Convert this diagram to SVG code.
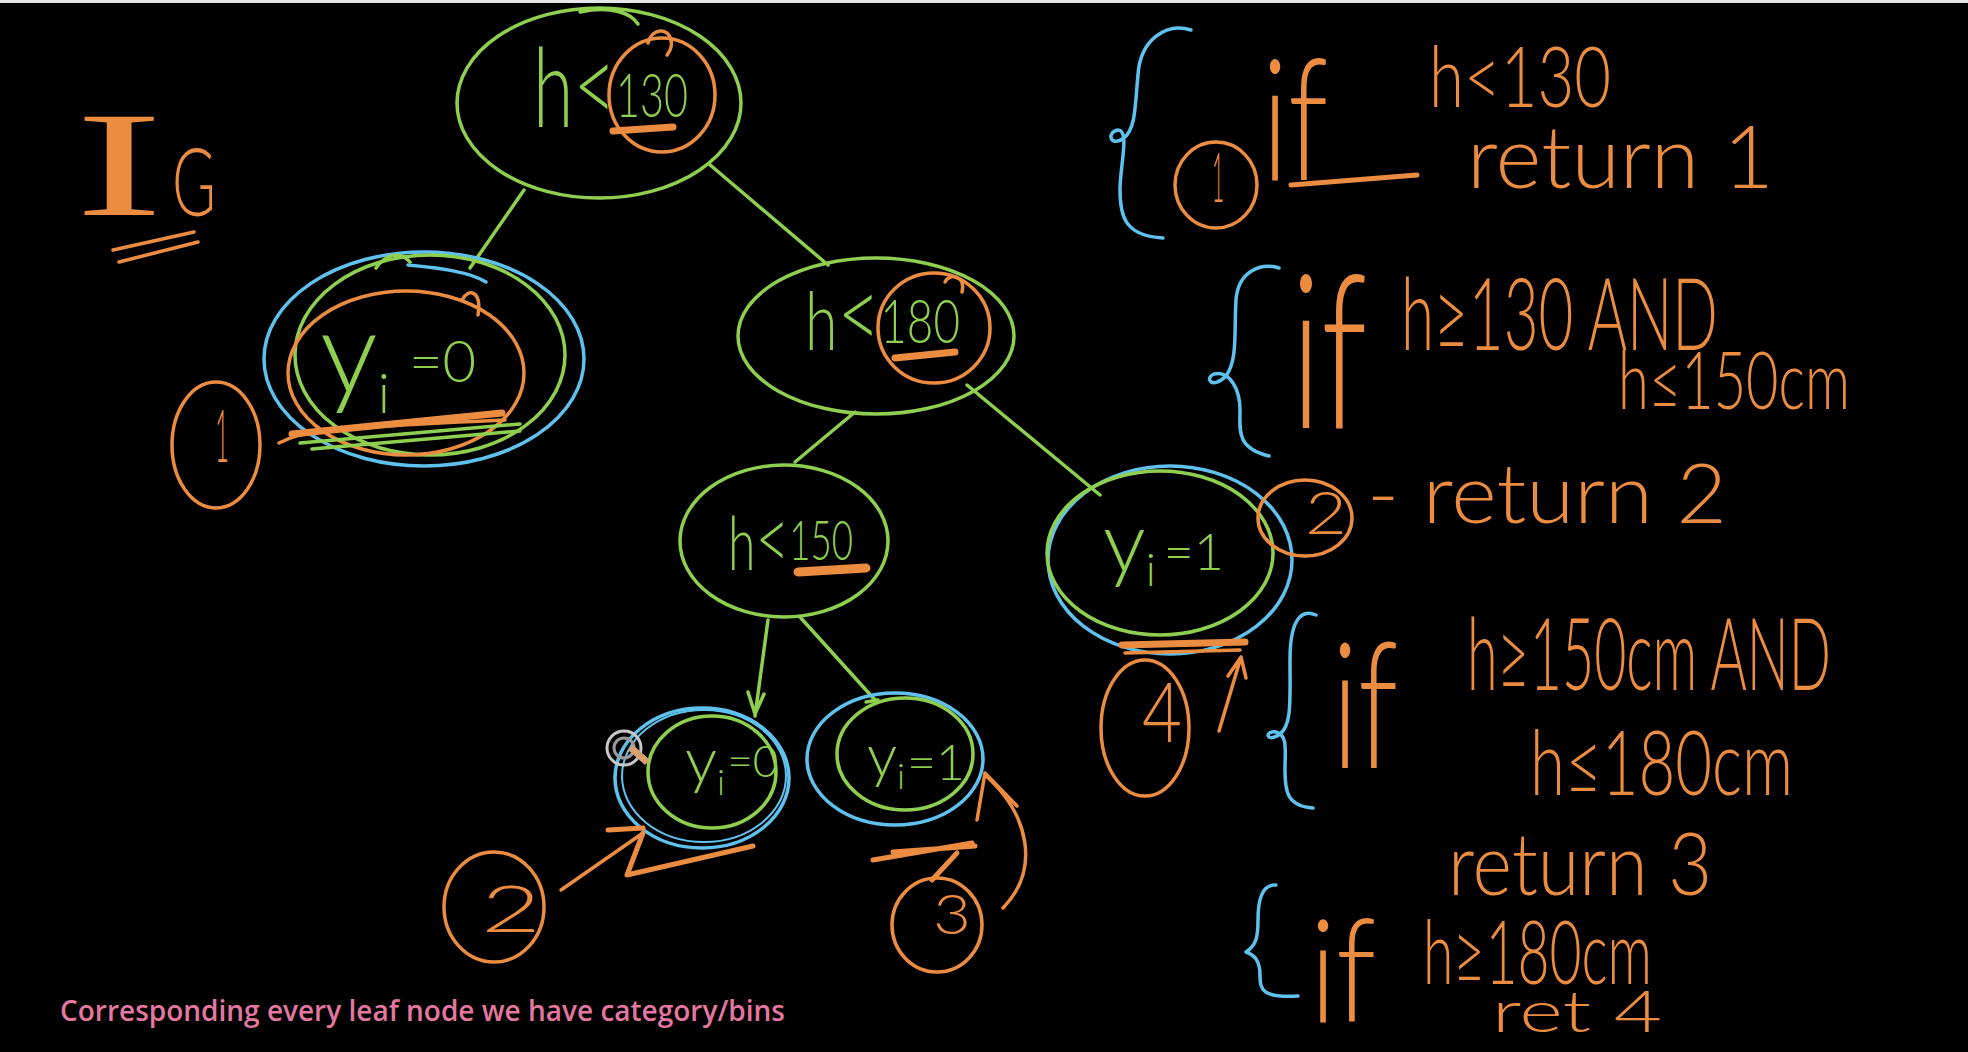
<svg xmlns="http://www.w3.org/2000/svg" width="1968" height="1052" viewBox="0 0 1968 1052">
<defs>
<style>
.g{fill:none;stroke:#8fcf50;stroke-width:3.5;stroke-linecap:round;stroke-linejoin:round}
.o{fill:none;stroke:#ec8c40;stroke-width:3.5;stroke-linecap:round;stroke-linejoin:round}
.ou{fill:none;stroke:#ec8c40;stroke-width:7;stroke-linecap:round}
.b{fill:none;stroke:#5fc1ee;stroke-width:3.5;stroke-linecap:round;stroke-linejoin:round}
.tg{fill:#8fcf50;font-family:Lato,"Open Sans","DejaVu Sans",sans-serif;font-weight:300}
.to{fill:#ec8c40;font-family:Lato,"Open Sans","DejaVu Sans",sans-serif;font-weight:300}
</style>
</defs>
<rect width="1968" height="1052" fill="#000"/>
<rect width="1968" height="3" fill="#e6e6e6"/>

<g id="title-IG">
<text x="75" y="215" class="to" style="font-family:'Liberation Serif',serif;font-weight:normal" font-size="150" textLength="88" lengthAdjust="spacingAndGlyphs">I</text>
<text x="172" y="216" class="to" font-size="95" textLength="44" lengthAdjust="spacingAndGlyphs">G</text>
<path class="o" d="M113 250 L194 232 M119 262 L198 242"/>
</g>

<g id="connectors">
<path class="g" d="M524 190 L470 268"/>
<path class="g" d="M709 164 L828 265"/>
<path class="g" d="M855 412 L795 462"/>
<path class="g" d="M967 385 L1100 495"/>
<path class="g" d="M768 620 L755 716 M748 692 L755 714 L764 694"/>
<path class="g" d="M800 617 L875 700 M866 702 L878 700"/>
</g>

<g id="root">
<ellipse class="g" cx="599" cy="103" rx="142" ry="95"/>
<path class="g" d="M580 12 C610 6 630 12 638 24"/>
<ellipse class="o" cx="662" cy="95" rx="53" ry="57"/>
<path class="o" d="M648 43 C652 28 668 27 671 40 C673 48 669 52 667 55"/>
<text x="533" y="127" class="tg" font-size="110" textLength="155" lengthAdjust="spacingAndGlyphs">h<tspan dy="-3">&lt;</tspan><tspan font-size="62" dy="-7">130</tspan></text>
<path class="ou" d="M613 131 L673 127"/>
</g>

<g id="leaf-left">
<ellipse class="b" cx="424" cy="359" rx="160" ry="107"/>
<ellipse class="g" cx="430" cy="355" rx="135" ry="100"/>
<path class="b" d="M408 265 C440 268 470 272 486 282"/>
<path class="g" d="M376 268 C385 255 400 250 410 262"/>
<ellipse class="o" cx="406" cy="373" rx="118" ry="82"/>
<path class="o" d="M462 300 C468 288 482 290 478 315"/>
<text x="320" y="393" class="tg" font-size="115">y<tspan font-size="55" dy="20">i</tspan><tspan font-size="58" dx="19" dy="-31">=0</tspan></text>
<path class="ou" d="M292 434 L502 413"/>
<path class="o" d="M279 443 C300 432 320 428 505 420"/>
<path class="g" d="M300 443 L520 424 M312 449 L520 431"/>
</g>

<g id="bin-1">
<ellipse class="o" cx="216" cy="445" rx="44" ry="63"/>
<text x="222" y="462" class="to" font-size="72" text-anchor="middle" textLength="14" lengthAdjust="spacingAndGlyphs">1</text>
</g>

<g id="node-h180">
<ellipse class="g" cx="876" cy="336" rx="138" ry="78"/>
<ellipse class="o" cx="934" cy="328" rx="56" ry="55"/>
<path class="o" d="M945 282 C950 272 966 276 962 292"/>
<text x="805" y="350" class="tg" font-size="80" textLength="155" lengthAdjust="spacingAndGlyphs">h<tspan font-size="100" dy="-1">&lt;</tspan><tspan font-size="62" dy="-6">180</tspan></text>
<path class="ou" d="M895 358 L955 352"/>
</g>

<g id="node-h150">
<ellipse class="g" cx="784" cy="541" rx="104" ry="76"/>
<text x="728" y="570" class="tg" font-size="75" textLength="125" lengthAdjust="spacingAndGlyphs">h<tspan font-size="88" dy="0">&lt;</tspan><tspan font-size="55" dy="-10">150</tspan></text>
<path class="ou" d="M798 572 L866 568" style="stroke-width:9"/>
</g>

<g id="leaf-right">
<ellipse class="b" cx="1170" cy="560" rx="122" ry="94"/>
<ellipse class="g" cx="1160" cy="553" rx="113" ry="82"/>
<text x="1103" y="572" class="tg" font-size="85">y<tspan font-size="45" dy="14">i</tspan><tspan font-size="52" dx="8" dy="-16">=1</tspan></text>
<path class="ou" d="M1122 645 L1245 642"/>
<path class="o" d="M1125 653 L1240 650"/>
</g>

<g id="bin-2-right">
<ellipse class="o" cx="1305" cy="518" rx="47" ry="38"/>
<text x="1326" y="534" class="to" font-size="60" text-anchor="middle" textLength="42" lengthAdjust="spacingAndGlyphs">2</text>
</g>

<g id="bin-4">
<ellipse class="o" cx="1145" cy="728" rx="44" ry="68"/>
<text x="1162" y="742" class="to" font-size="82" text-anchor="middle" textLength="40" lengthAdjust="spacingAndGlyphs">4</text>
<path class="o" d="M1219 731 L1241 657 M1228 676 L1241 657 L1246 678"/>
</g>

<g id="leaf-bottom-left">
<ellipse class="b" cx="702" cy="778" rx="87" ry="70"/>
<ellipse class="b" cx="704" cy="776" rx="82" ry="66" style="stroke-width:2"/>
<ellipse class="g" cx="712" cy="772" rx="64" ry="56"/>
<text x="685" y="782" class="tg" font-size="64">y<tspan font-size="36" dy="13">i</tspan><tspan font-size="44" dx="2" dy="-18">=0</tspan></text>
</g>

<g id="cursor">
<circle cx="624" cy="748" r="17" fill="none" stroke="#c8c8c8" stroke-width="3"/>
<circle cx="624" cy="748" r="10" fill="none" stroke="#9a9a9a" stroke-width="3"/>
<path d="M628 750 L645 765 L650 760 L633 745 Z" fill="#d9a070"/>
</g>

<g id="bin-2-bottom">
<ellipse class="o" cx="494" cy="907" rx="50" ry="55"/>
<text x="511" y="932" class="to" font-size="66" text-anchor="middle" textLength="60" lengthAdjust="spacingAndGlyphs">2</text>
<path class="o" d="M561 890 L643 833"/>
<path class="o" d="M608 830 L643 828 M643 833 L627 875 L753 846" style="stroke-width:5"/>
</g>

<g id="leaf-bottom-right">
<ellipse class="b" cx="895" cy="759" rx="88" ry="66"/>
<ellipse class="g" cx="905" cy="754" rx="68" ry="56"/>
<text x="867" y="777" class="tg" font-size="60">y<tspan font-size="36" dy="12">i</tspan><tspan font-size="50" dx="2" dy="-9">=1</tspan></text>
</g>

<g id="bin-3">
<ellipse class="o" cx="937" cy="925" rx="45" ry="47"/>
<text x="952" y="934" class="to" font-size="55" text-anchor="middle" textLength="38" lengthAdjust="spacingAndGlyphs">3</text>
<path class="o" d="M873 860 L972 843 M893 852 L975 846 M957 853 L932 880" style="stroke-width:5"/>
<path class="o" d="M1003 908 C1040 870 1030 815 985 775 M977 820 L985 773 L1017 806"/>
</g>

<g id="rule-1">
<path class="b" d="M1191 30 C1166 22 1140 40 1138 75 C1135 105 1136 128 1124 138 C1110 148 1106 132 1118 130 C1130 130 1120 165 1120 190 C1120 215 1124 236 1163 238"/>
<ellipse class="o" cx="1216" cy="185" rx="41" ry="43"/>
<text x="1218" y="202" class="to" font-size="68" text-anchor="middle" textLength="12" lengthAdjust="spacingAndGlyphs">1</text>
<text x="1262" y="180" class="to" font-size="170" textLength="66" lengthAdjust="spacingAndGlyphs">if</text>
<path class="o" d="M1291 185 L1417 175" style="stroke-width:5"/>
<text x="1429" y="107" class="to" font-size="84" textLength="182" lengthAdjust="spacingAndGlyphs">h&lt;130</text>
<text x="1467" y="188" class="to" font-size="86" textLength="307" lengthAdjust="spacingAndGlyphs">return 1</text>
</g>

<g id="rule-2">
<path class="b" d="M1279 268 C1260 262 1238 272 1236 300 C1234 330 1238 360 1226 376 C1212 390 1204 378 1214 374 C1230 370 1240 390 1240 410 C1240 430 1236 448 1269 456"/>
<text x="1291" y="428" class="to" font-size="215" textLength="76" lengthAdjust="spacingAndGlyphs">if</text>
<text x="1401" y="350" class="to" font-size="100" textLength="317" lengthAdjust="spacingAndGlyphs">h≥130 AND</text>
<text x="1618" y="409" class="to" font-size="80" textLength="232" lengthAdjust="spacingAndGlyphs">h≤150cm</text>
<text x="1367" y="523" class="to" font-size="82" textLength="360" lengthAdjust="spacingAndGlyphs">- return 2</text>
</g>

<g id="rule-3">
<path class="b" d="M1316 615 C1300 608 1290 622 1290 660 C1290 700 1292 725 1280 734 C1266 744 1264 730 1276 732 C1288 735 1285 750 1285 770 C1285 790 1286 806 1313 808"/>
<text x="1332" y="768" class="to" font-size="175" textLength="66" lengthAdjust="spacingAndGlyphs">if</text>
<text x="1467" y="690" class="to" font-size="100" textLength="364" lengthAdjust="spacingAndGlyphs">h≥150cm AND</text>
<text x="1530" y="795" class="to" font-size="90" textLength="263" lengthAdjust="spacingAndGlyphs">h≤180cm</text>
<text x="1448" y="895" class="to" font-size="86" textLength="264" lengthAdjust="spacingAndGlyphs">return 3</text>
</g>

<g id="rule-4">
<path class="b" d="M1276 885 C1262 884 1258 900 1258 920 C1258 935 1257 945 1246 952 C1254 955 1260 960 1260 975 C1260 990 1262 998 1298 996"/>
<text x="1310" y="1022" class="to" font-size="145" textLength="66" lengthAdjust="spacingAndGlyphs">if</text>
<text x="1423" y="984" class="to" font-size="88" textLength="229" lengthAdjust="spacingAndGlyphs">h≥180cm</text>
<text x="1492" y="1032" class="to" font-size="58" textLength="170" lengthAdjust="spacingAndGlyphs">ret 4</text>
</g>

<text id="caption" x="60" y="1021" fill="#e3779f" font-family="'Open Sans','Liberation Sans',sans-serif" font-weight="600" font-size="28" textLength="725" lengthAdjust="spacingAndGlyphs">Corresponding every leaf node we have category/bins</text>
</svg>
